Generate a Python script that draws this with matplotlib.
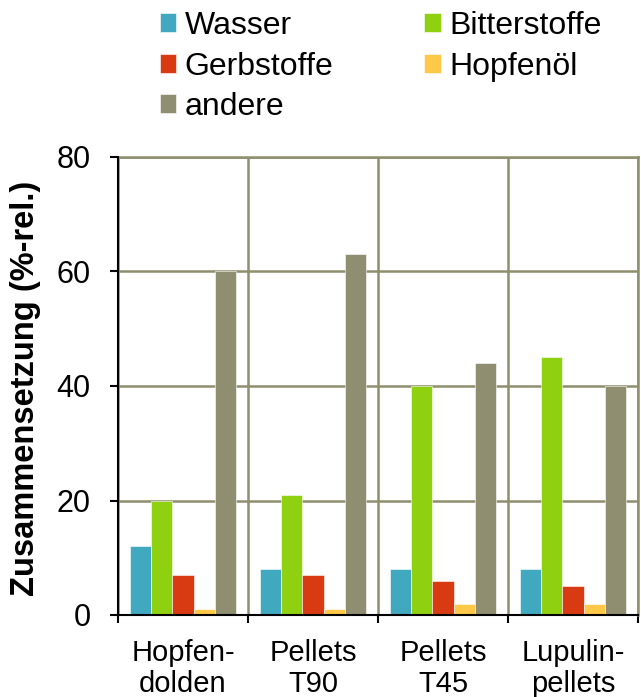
import matplotlib
matplotlib.use("Agg")
import matplotlib.pyplot as plt
import numpy as np

plt.rcParams['font.family'] = ['Liberation Sans', 'DejaVu Sans']

categories = ["Hopfen-\ndolden", "Pellets\nT90", "Pellets\nT45", "Lupulin-\npellets"]
series_names = ["Wasser", "Bitterstoffe", "Gerbstoffe", "Hopfenöl", "andere"]
wasser = [12, 8, 8, 8]
bitterstoffe = [20, 21, 40, 45]
gerbstoffe = [7, 7, 6, 5]
hopfenoel = [1, 1, 2, 2]
andere = [60, 63, 44, 40]
yticks = [0, 20, 40, 60, 80]
colors = ["#41A9BF", "#8FD010", "#D83A12", "#FFC849", "#908E70"]
grid_color = "#8F8E6E"

series = [wasser, bitterstoffe, gerbstoffe, hopfenoel, andere]

fig = plt.figure(figsize=(6.41, 6.97), dpi=100)
ax = fig.add_axes([118/641, 1-615/697, (638-118)/641, (615-157)/697])

x = np.arange(len(categories))
w = 0.164
handles = []
for i, (vals, name, c) in enumerate(zip(series, series_names, colors)):
    h = ax.bar(x + (i - 2) * w, vals, width=w, color=c, edgecolor="white",
               linewidth=0.4, label=name, zorder=3)
    handles.append(h)

ax.set_xlim(-0.5, len(categories) - 0.5)
ax.set_ylim(0, 80)
ax.set_yticks(yticks)
ax.set_yticklabels([str(t) for t in yticks], fontsize=22)
ax.yaxis.grid(True, color=grid_color, linewidth=1.8, zorder=0)
ax.set_xticks(x)
ax.set_xticklabels(categories, fontsize=21, linespacing=1.15)
ax.set_xticks(np.arange(len(categories) + 1) - 0.5, minor=True)
ax.xaxis.grid(True, which="minor", color=grid_color, linewidth=1.8, zorder=0)
ax.tick_params(axis="x", which="major", length=0, pad=17)
ax.tick_params(axis="x", which="minor", length=5.8, width=1.5, direction="out", color="black")
ax.tick_params(axis="y", length=5.8, width=1.5, direction="out", color="black", pad=14)

for s in ("top", "right"):
    ax.spines[s].set_color(grid_color)
    ax.spines[s].set_linewidth(1.8)
for s in ("left", "bottom"):
    ax.spines[s].set_linewidth(1.5)
    ax.spines[s].set_zorder(5)

ax.set_ylabel("Zusammensetzung (%-rel.)", fontsize=23.5, fontweight="bold", va="center")
ax.yaxis.set_label_coords(-0.178, (615 - 388) / 458)

order = [0, 2, 4, 1, 3]
fig.legend(handles=[handles[i] for i in order], labels=[series_names[i] for i in order],
           ncol=2, loc="upper left",
           bbox_to_anchor=(159.5/641, 1 - 11/697), frameon=False, fontsize=23,
           handlelength=0.53, handleheight=0.53, handletextpad=0.25,
           columnspacing=2.85, labelspacing=0.33, borderpad=0, borderaxespad=0)

fig.savefig("out.png", dpi=100)
